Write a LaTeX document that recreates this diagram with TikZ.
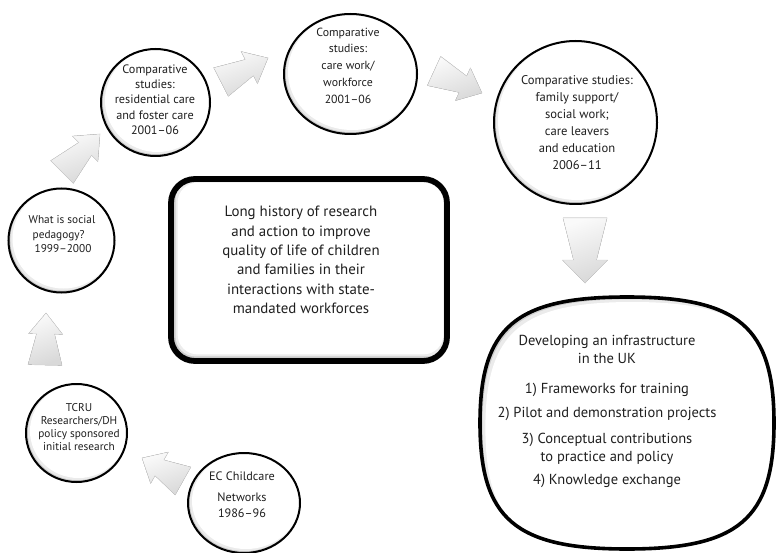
\documentclass[tikz,border=0pt]{standalone}
\usepackage{fontspec}
\setmainfont{PT Sans}
\usetikzlibrary{shapes.geometric,calc}

\newcommand\fsz[2]{\fontsize{#1}{#2}\selectfont}

% block arrow: tail, tip, tail half-width, neck half-width, head half-width, head length
\newcommand\blockarrow[6]{%
  \coordinate (neck) at ($(#2)!#6!(#1)$);
  \filldraw[arrowfill]
    ($(#1)!#3!90:(#2)$) -- ($(neck)!#4!90:(#2)$) -- ($(neck)!#5!90:(#2)$) -- (#2)
    -- ($(neck)!#5!-90:(#2)$) -- ($(neck)!#4!-90:(#2)$) -- ($(#1)!#3!-90:(#2)$) -- cycle;
}

% outcome oval, centred at (627,423), radii 147 x 126, squarer than an ellipse
\newcommand\infraoval{%
  (774,423) .. controls (774,327.2) and (738.7,297) .. (627,297)
  .. controls (515.3,297) and (480,327.2) .. (480,423)
  .. controls (480,518.8) and (515.3,549) .. (627,549)
  .. controls (738.7,549) and (774,518.8) .. (774,423) -- cycle
}

\tikzset{
  bub/.style 2 args={ellipse, draw=black, line width=2pt, inner sep=0pt,
    minimum width=#1*2pt, minimum height=#2*2pt, fill=gray!40,
    path picture={
      \fill[gray!16] ([shift={(0.9pt,0.9pt)}]path picture bounding box.center)
        ellipse [x radius=#1*1pt-1pt, y radius=#2*1pt-1pt];
      \fill[white] ([shift={(2pt,2pt)}]path picture bounding box.center)
        ellipse [x radius=#1*1pt-2pt, y radius=#2*1pt-2pt];
    }},
  txt/.style={inner sep=0pt, align=center, text=black!88},
  arrowfill/.style={draw=gray!35, line width=0.4pt, top color=gray!4, bottom color=gray!30,
    shading angle=20},
  histbox/.style={rectangle, rounded corners=24pt, draw=black, line width=5.8pt,
    minimum width=276pt, minimum height=182pt, fill=gray!40, inner sep=0pt,
    path picture={
      \fill[gray!15, rounded corners=20pt]
        ([shift={(4.6pt,4.6pt)}]path picture bounding box.south west)
        rectangle (path picture bounding box.north east);
      \fill[white, rounded corners=20pt]
        ([shift={(6.6pt,6.6pt)}]path picture bounding box.south west)
        rectangle ([shift={(-3.6pt,-3.6pt)}]path picture bounding box.north east);
    }},
}

\begin{document}
\begin{tikzpicture}[x=1pt,y=-1pt]
  \useasboundingbox (0,0) rectangle (778,553);
  \fill[white] (0,0) rectangle (778,553);

  % stages
  \node[bub={53}{52}]      (pedagogy)  at (61.5,240.5) {};
  \node[bub={54.5}{53.5}]  (resid)     at (155.5,102.5) {};
  \node[bub={66.5}{60}]    (carework)  at (350.5,74) {};
  \node[bub={81.5}{81.5}]  (family)    at (575.5,122.5) {};
  \node[bub={50.5}{49}]    (tcru)      at (76.5,433) {};
  \node[bub={56}{50}]      (ecnet)     at (244,503) {};

  % central box
  \node[histbox] (history) at (309,270) {};

  % outcome oval with its inner shadow along the upper left
  \coordinate (infra) at (627,423);
  \begin{scope}
    \clip \infraoval;
    \fill[gray!38] (470,290) rectangle (778,553);
    \begin{scope}[shift={(2.6,2.4)}]
      \fill[gray!16] \infraoval;
    \end{scope}
    \begin{scope}[shift={(5.4,5)}]
      \fill[white] \infraoval;
    \end{scope}
  \end{scope}
  \draw[line width=3.6pt] \infraoval;

  % arrow end points
  \coordinate (a1s) at (183,481);  \coordinate (a1e) at (142,458);
  \coordinate (a2s) at (45,365);   \coordinate (a2e) at (46,313);
  \coordinate (a3s) at (62,172);   \coordinate (a3e) at (100,134);
  \coordinate (a4s) at (221,82);   \coordinate (a4e) at (268,58);
  \coordinate (a5s) at (434,71);   \coordinate (a5e) at (482,93);
  \coordinate (a6s) at (585,218);  \coordinate (a6e) at (585,283);

  \blockarrow{a1s}{a1e}{16pt}{9pt}{18pt}{20pt}
  \blockarrow{a2s}{a2e}{17pt}{9pt}{17pt}{21pt}
  \blockarrow{a3s}{a3e}{16pt}{9pt}{18pt}{21pt}
  \blockarrow{a4s}{a4e}{16pt}{9pt}{18pt}{21pt}
  \blockarrow{a5s}{a5e}{16pt}{9pt}{18pt}{21pt}
  \blockarrow{a6s}{a6e}{22pt}{11.5pt}{22.5pt}{23pt}

  % texts
  \node[txt, align=left, font=\fsz{11.3}{14.5}] (t-ped) at (62,234.5)
    {What is social\\\hspace*{4pt}pedagogy?\\\hspace*{6pt}1999–2000};
  \node[txt, font=\fsz{12.2}{15.25}] (t-res) at (155,99.5)
    {Comparative\\studies:\\residential care\\and foster care\\2001–06};
  \node[txt, font=\fsz{11.8}{16.75}] (t-care) at (348,65.5)
    {Comparative\\studies:\\care work/\\workforce\\2001–06};
  \node[txt, font=\fsz{12.6}{17}] (t-fam) at (577,122.5)
    {Comparative studies:\\family support/\\social work;\\care leavers\\and education\\2006–11};
  \node[txt, font=\fsz{11.3}{13.3}] (t-tcru) at (79,427)
    {TCRU\\Researchers/DH\\policy sponsored\\initial research};
  \node[txt, font=\fsz{12.2}{16}] (t-ec) at (242,494.5)
    {EC Childcare\\[5pt]Networks\\1986–96};
  \node[txt, font=\fsz{14.9}{19.4}] (t-hist) at (301,260)
    {Long history of research\\and action to improve\\quality of life of children\\and families in their\\interactions with state-\\mandated workforces};
  \node[txt, font=\fsz{14.5}{18.5}] (t-infra) at (607,411.5)
    {Developing an infrastructure\\in the UK\\[11pt]1) Frameworks for training\\[5.5pt]2) Pilot and demonstration projects\\[7.5pt]3) Conceptual contributions\\to practice and policy\\[4.5pt]4) Knowledge exchange};
\end{tikzpicture}
\end{document}
